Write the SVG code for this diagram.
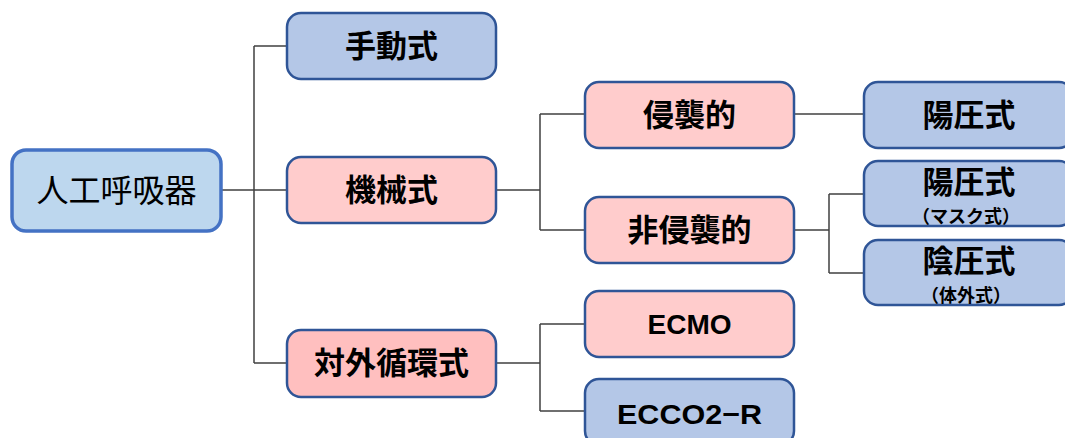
<svg xmlns="http://www.w3.org/2000/svg" width="1065" height="438" viewBox="0 0 1065 438">
<style>
.n{stroke:#2f5597;stroke-width:2.5}
.b{fill:#b4c7e7}
.p{fill:#ffcccc}
.p2{fill:#ffbfbf}
.t{font-family:"Noto Sans CJK JP","Liberation Sans",sans-serif;font-weight:bold;font-size:31px;fill:#000;text-anchor:middle}
.s{font-size:18px}
.e{font-family:"Liberation Sans","Noto Sans CJK JP",sans-serif;font-size:28px}
.c{fill:none;stroke:#404040;stroke-width:1.5}
</style>
<rect width="1065" height="438" fill="#fff"/>
<g id="connectors" class="c">
<path d="M221 190H254M254 46V363M254 46H287M254 190H287M254 363H287"/>
<path d="M496 190H540M540 114V230M540 114H585M540 230H585"/>
<path d="M794 114H864"/>
<path d="M794 230H829M829 194V273M829 194H864M829 273H864"/>
<path d="M496 363H540M540 324V411M540 324H585M540 411H585"/>
</g>
<g id="root">
<rect x="12" y="150" width="209" height="81" rx="14" fill="#bdd7ee" stroke="#4472c4" stroke-width="3.5"/>
<text class="t" x="116.5" y="202" style="font-weight:normal;font-size:32px">人工呼吸器</text>
</g>
<g id="manual">
<rect class="n b" x="287" y="13" width="209" height="66" rx="14"/>
<text class="t" x="391.5" y="57">手動式</text>
</g>
<g id="mechanical">
<rect class="n p" x="287" y="157" width="209" height="66" rx="14"/>
<text class="t" x="391.5" y="201">機械式</text>
</g>
<g id="extracorporeal">
<rect class="n p2" x="287" y="330" width="209" height="67" rx="14"/>
<text class="t" x="391.5" y="374">対外循環式</text>
</g>
<g id="invasive">
<rect class="n p" x="585" y="82" width="209" height="66" rx="14"/>
<text class="t" x="689.5" y="126">侵襲的</text>
</g>
<g id="noninvasive">
<rect class="n p" x="585" y="197" width="209" height="66" rx="14"/>
<text class="t" x="689.5" y="241">非侵襲的</text>
</g>
<g id="ecmo">
<rect class="n p" x="585" y="291" width="209" height="66" rx="14"/>
<text class="t e" x="689.5" y="334">ECMO</text>
</g>
<g id="ecco2r">
<rect class="n b" x="585" y="379" width="209" height="66" rx="14"/>
<text class="t e" x="689.5" y="424" textLength="145" lengthAdjust="spacingAndGlyphs">ECCO2−R</text>
</g>
<g id="positive">
<rect class="n b" x="864" y="82" width="209" height="66" rx="14"/>
<text class="t" x="969" y="126">陽圧式</text>
</g>
<g id="positive-mask">
<rect class="n b" x="864" y="161" width="209" height="65" rx="14"/>
<text class="t" x="969" y="193">陽圧式</text>
<text class="t s" x="966" y="223">（マスク式）</text>
</g>
<g id="negative">
<rect class="n b" x="864" y="240" width="209" height="65" rx="14"/>
<text class="t" x="969" y="272">陰圧式</text>
<text class="t s" x="966" y="302">（体外式）</text>
</g>
</svg>
